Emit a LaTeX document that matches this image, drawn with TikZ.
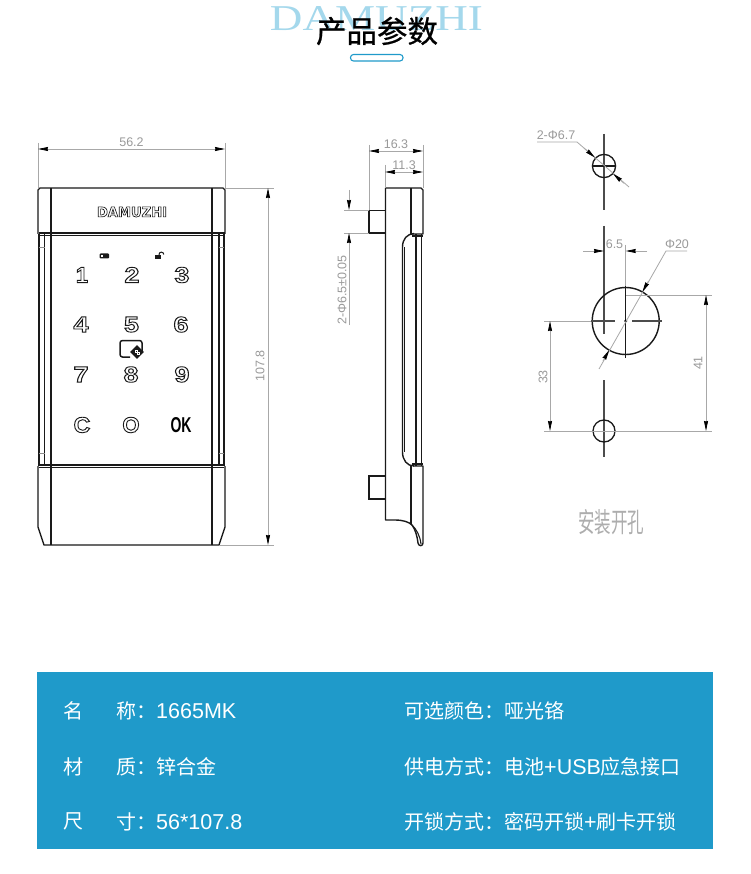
\documentclass[tikz,border=0pt]{standalone}
\usepackage{fontspec}
\usepackage{graphicx}
\usetikzlibrary{arrows.meta,shapes.geometric}
\setmainfont{Liberation Sans}
\newfontfamily\cjk{Noto Sans CJK SC}
\newfontfamily\cjkb{Noto Sans CJK SC}[FakeBold=0.7]
\newfontfamily\serifw{Liberation Serif}
\newfontfamily\sansw{Liberation Sans}
\newfontfamily\keyf{DejaVu Sans}[BoldFont={DejaVu Sans Bold}]
\newcommand{\outl}[2][0.9]{\special{pdf:code 1 Tr #1 w}#2\special{pdf:code 0 Tr}}
\newcommand{\latn}[1]{{\sansw\fontsize{21.5}{21.5}\selectfont #1}}
\newcommand{\wkey}[1]{\scalebox{1.22}[1]{\outl{#1}}}
\newcommand{\fc}{\symbol{"FF1A}}
\definecolor{panelblue}{HTML}{1F9ACA}
\definecolor{wm}{HTML}{A4D8EC}
\definecolor{dimc}{HTML}{A8A8A8}
\definecolor{dimt}{HTML}{9A9A9A}
\definecolor{inkc}{HTML}{1A1A1A}
\tikzset{
  body/.style={draw=inkc,line width=1.4pt,line join=round},
  thinb/.style={draw=inkc,line width=1.1pt},
  dimline/.style={draw=dimc,line width=0.8pt},
  dimarrow/.style={dimline,-{Stealth[length=10pt,width=4pt,inset=0.5pt,color=black]}},
  dimboth/.style={dimline,{Stealth[length=10pt,width=4pt,inset=0.5pt,color=black]}-{Stealth[length=10pt,width=4pt,inset=0.5pt,color=black]}},
  center line/.style={draw=black!70,line width=1.4pt},
  dimtext/.style={text=dimt,font=\sansw\fontsize{12.5}{12.5}\selectfont,inner sep=0pt},
  key/.style={inner sep=0pt,text=inkc,font=\sansw\bfseries\fontsize{22}{22}\selectfont},
  paneltext/.style={text=white,anchor=west,inner sep=0pt,font=\cjk\fontsize{20}{20}\selectfont},
}
\begin{document}
\begin{tikzpicture}[x=1pt,y=-1pt]
\useasboundingbox (0,0) rectangle (750,874);
\fill[white] (0,0) rectangle (750,874);
% header
\node[text=wm,inner sep=0pt] (wmark) at (376.5,19) {\resizebox{213pt}{24pt}{\serifw DAMUZHI}};
\node[inner sep=0pt,font=\cjkb\fontsize{30.5}{30.5}\selectfont] (title) at (377,31) {产品参数};
\draw[draw=panelblue,line width=1.1pt,rounded corners=3pt] (350.5,54.5) rectangle (403,61);
% blue panel
\fill[panelblue] (37,672) rectangle (713,849);
\node[paneltext] (n1a) at (63,710.5) {名};
\node[paneltext] (n1b) at (116,710.5) {称\fc\latn{1665MK}};
\node[paneltext] (n2a) at (63,766.5) {材};
\node[paneltext] (n2b) at (116,766.5) {质\fc 锌合金};
\node[paneltext] (n3a) at (63,821.5) {尺};
\node[paneltext] (n3b) at (116,821.5) {寸\fc\latn{56*107.8}};
\node[paneltext] (m1) at (404,710.5) {可选颜色\fc 哑光铬};
\node[paneltext] (m2) at (404,766.5) {供电方式\fc 电池\latn{+USB}应急接口};
\node[paneltext] (m3) at (404,821.5) {开锁方式\fc 密码开锁\latn{+}刷卡开锁};
% front view
\draw[body] (38,234) -- (38,190) -- (40,188) -- (223,188) -- (225,190) -- (225,234);
\draw[body] (38,466) -- (38,527) -- (44,545) -- (219,545) -- (225,527) -- (225,466);
\draw[body] (38.5,233) -- (224.5,233);
\draw[thinb] (39,235.5) -- (224,235.5);
\draw[body] (38.5,465) -- (224.5,465);
\draw[thinb] (39,467.5) -- (224,467.5);
\draw[body] (51,188) -- (51,545);
\draw[body] (212,188) -- (212,545);
\draw[thinb] (39,234) -- (39,466);
\draw[thinb] (44.5,234) -- (44.5,466);
\draw[thinb] (224,234) -- (224,466);
\draw[thinb] (219,234) -- (219,466);
\draw[draw=black!45,line width=.7pt] (39,247) -- (44.5,247) (39,453) -- (44.5,453) (219,247) -- (224,247) (219,453) -- (224,453);
\node[inner sep=0pt,text=inkc,font=\keyf\bfseries] (logo) at (132,212) {\resizebox{70pt}{10pt}{\outl[0.5]{DAMUZHI}}};
\foreach \n/\t/\x/\y in {k2/2/132/275,k3/3/182/275,k4/4/81/324.5,k5/5/131.5/324.5,k6/6/181/324.5,k7/7/81/374.5,k8/8/131/374.5,k9/9/182/374.5}
  \node[key] (\n) at (\x,\y) {\wkey{\t}};
\node[key] (k1) at (82,275) {\outl{1}};
\node[key] (kc) at (82,425) {\scalebox{1.05}[1]{\outl{C}}};
\node[key] (kz) at (131,425) {\outl{O}};
\node[inner sep=0pt,text=black,font=\sansw\bfseries\fontsize{21}{21}\selectfont] (ok) at (181,425) {\resizebox{21pt}{15pt}{OK}};
% small icons
\fill[inkc,rounded corners=1pt] (99.5,253.5) rectangle (109,258.5);
\fill[white] (100.5,255) rectangle (102.5,257);
\fill[inkc] (155,255.5) rectangle (160.5,259);
\draw[inkc,line width=1pt] (159,255.5) -- (159,254.5) arc (180:360:2.4);
\draw[inkc,line width=1.5pt,rounded corners=2.5pt] (142,351) -- (142,340.5) -- (120,340.5) -- (120,357) -- (130,357);
\node[diamond,fill=inkc,minimum size=14pt,inner sep=0pt] (chip) at (137,352) {};
\draw[white,line width=.7pt] (135,350.5) rectangle (137,352.5) (137.5,352) rectangle (139.5,354);
% front dims
\draw[dimline] (38,143) -- (38,188) (225,143) -- (225,188);
\draw[dimboth] (38,149) -- (225,149);
\node[dimtext] (d562) at (131.5,142) {56.2};
\draw[dimline] (225,188) -- (274,188) (219,545) -- (274,545);
\draw[dimboth] (268,188) -- (268,545);
\node[dimtext,rotate=90] (d1078) at (260,366) {107.8};
% side view
\draw[body] (385.5,188) -- (421,188) -- (423,190) -- (423,234) -- (411,234);
\draw[body] (385.5,188) -- (385.5,520) -- (395,520) .. controls (403,520) and (409,522) .. (412,525) .. controls (415,529) and (417,535) .. (418,543) .. controls (418.5,546.5) and (423,546.5) .. (423,543) -- (423,466) -- (413,466);
\draw[thinb] (411,188) -- (411,234);
\draw[thinb] (411,466) -- (411,524);
\draw[body] (414,233.5) .. controls (407,234) and (402.5,239) .. (402.5,247) -- (402.5,452) .. controls (402.5,460) and (407,466) .. (414,466);
\draw[thinb] (404.5,247) -- (404.5,452);
\draw[thinb] (416,234) -- (416,466) (421.5,234) -- (421.5,466);
\draw[thinb] (412,236) -- (423,236) (412,464) -- (423,464);
\draw[thinb] (412,525) .. controls (417,530) and (420,536) .. (421,544);
\draw[thinb] (385.5,210.5) -- (369,210.5) -- (369,233) -- (385.5,233);
\draw[thinb] (385.5,476) -- (369,476) -- (369,499) -- (385.5,499);
% side dims
\draw[dimline] (369,145) -- (369,210) (423,145) -- (423,188) (385,165) -- (385,188);
\draw[dimboth] (369,151) -- (423,151);
\draw[dimboth] (385,172) -- (423,172);
\node[dimtext] (d163) at (396,144) {16.3};
\node[dimtext] (d113) at (404,165) {11.3};
\draw[dimline] (344,210) -- (369,210) (344,233) -- (369,233);
\draw[dimarrow] (349,190) -- (349,210);
\draw[dimarrow] (349,325) -- (349,233);
\node[dimtext,rotate=90] (d65) at (342,290) {2-Φ6.5±0.05};
% holes
\draw[center line] (604,134) -- (604,210) (604,226) -- (604,334) (604,380) -- (604,457);
\draw[thinb,line width=1.3pt] (604,166) circle (11.6);
\draw[thinb] (592,166) -- (616,166);
\draw[thinb,line width=1.4pt] (625.7,321) circle (33.5);
\draw[thinb] (625.7,286) -- (625.7,358);
\draw[center line,line width=1.2pt] (591,321) -- (615,321) (632,321) -- (662,321);
\fill[black] (625.7,321) circle (1.6);
\draw[thinb,line width=1.3pt] (604,431) circle (11);
% hole dims
\draw[dimline] (537,142) -- (577,142) -- (629,187);
\draw[dimarrow] (584,148.1) -- (595,157.6);
\draw[dimarrow] (624,183.3) -- (613,173.7);
\node[dimtext] (d67) at (556,135.5) {2-Φ6.7};
\draw[dimarrow] (583,251) -- (604,251);
\draw[dimarrow] (647,251) -- (625.7,251);
\draw[dimline] (625.7,245) -- (625.7,286);
\node[dimtext] (d65b) at (614.5,244) {6.5};
\draw[dimline] (687,251) -- (666,251) -- (599,369);
\draw[dimarrow] (648.5,281) -- (642.3,292);
\draw[dimarrow] (603,361) -- (609.2,350);
\node[dimtext] (d20) at (677,244) {Φ20};
\draw[dimline] (626,295) -- (712,295) (544,321) -- (591,321) (544,431) -- (712,431);
\draw[dimboth] (550,321) -- (550,431);
\draw[dimboth] (706,295) -- (706,431);
\node[dimtext,rotate=90] (d33) at (543,377) {33};
\node[dimtext,rotate=90] (d41) at (698,363) {41};
\node[text=black!32,inner sep=0pt] (caption) at (611,522.5) {\resizebox{66pt}{23pt}{\cjk 安装开孔}};
\end{tikzpicture}
\end{document}
